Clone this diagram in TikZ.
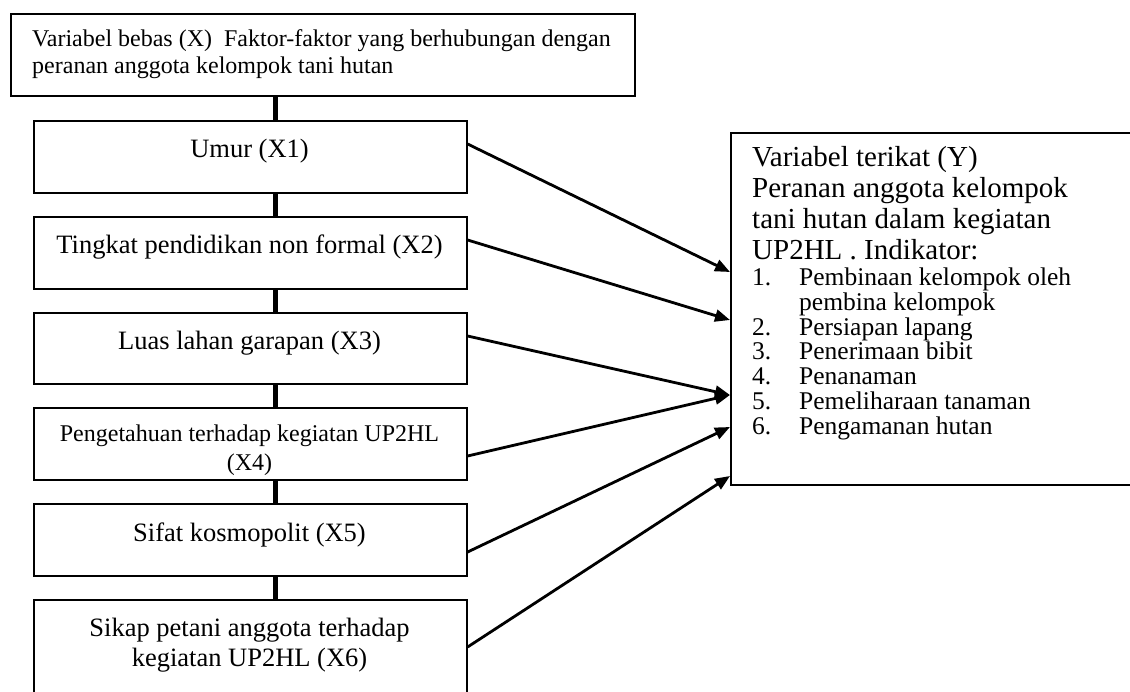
\documentclass[tikz,border=0pt]{standalone}
\usepackage{fontspec}
\setmainfont{Liberation Serif}
\usetikzlibrary{arrows.meta,calc}
\begin{document}
\begin{tikzpicture}[x=1pt,y=-1pt,
  box/.style={draw, line width=1.6pt, anchor=north west, inner sep=0pt, minimum width=433pt},
  lbl/.style={anchor=base, align=center, inner sep=0pt, font=\fontsize{26.5}{30}\selectfont},
  stem/.style={line width=5pt},
  arr/.style={line width=2.8pt, -{Triangle[length=15pt,width=12pt]}}
]
\useasboundingbox (0,0) rectangle (1130,691);
% top box
\node[box, minimum width=624pt, minimum height=82pt] (top) at (10,13) {};
\node[anchor=base west, align=left, inner sep=0pt, font=\fontsize{24}{27}\selectfont] (toptext) at (32,73)
  {Variabel bebas (X)\ \ Faktor-faktor yang berhubungan dengan\\peranan anggota kelompok tani hutan};
% X boxes
\node[box, minimum height=72pt] (x1) at (33,120) {};
\node[box, minimum height=72pt] (x2) at (33,216) {};
\node[box, minimum height=71pt] (x3) at (33,312) {};
\node[box, minimum height=72pt] (x4) at (33,407) {};
\node[box, minimum height=72pt] (x5) at (33,503) {};
\node[box, minimum height=110pt] (x6) at (33,599) {};
\node[lbl] (t1) at (249.5,157) {Umur (X1)};
\node[lbl] (t2) at (249.5,253) {Tingkat pendidikan non formal (X2)};
\node[lbl] (t3) at (249.5,349) {Luas lahan garapan (X3)};
\node[lbl, font=\fontsize{24}{29}\selectfont] (t4) at (249.5,470) {Pengetahuan terhadap kegiatan UP2HL\\(X4)};
\node[lbl] (t5) at (249.5,541) {Sifat kosmopolit (X5)};
\node[lbl] (t6) at (249.5,666) {Sikap petani anggota terhadap\\kegiatan UP2HL (X6)};
% stems
\coordinate (sx) at (275,0);
\draw[stem] (top.south -| sx) -- (x1.north -| sx);
\draw[stem] (x1.south -| sx) -- (x2.north -| sx);
\draw[stem] (x2.south -| sx) -- (x3.north -| sx);
\draw[stem] (x3.south -| sx) -- (x4.north -| sx);
\draw[stem] (x4.south -| sx) -- (x5.north -| sx);
\draw[stem] (x5.south -| sx) -- (x6.north -| sx);
% Y box
\node[box, minimum width=420pt, minimum height=352pt] (ybox) at (730,132) {};
\node[anchor=base west, align=left, inner sep=0pt, font=\fontsize{29}{31}\selectfont] (yhead) at (752,259)
  {Variabel terikat (Y)\\Peranan anggota kelompok\\tani hutan dalam kegiatan\\UP2HL . Indikator:};
\node[anchor=base west, align=left, inner sep=0pt, font=\fontsize{25.5}{24.7}\selectfont] (ylist) at (752,434)
  {\makebox[47pt][l]{1.}Pembinaan kelompok oleh\\
   \hspace*{47pt}pembina kelompok\\
   \makebox[47pt][l]{2.}Persiapan lapang\\
   \makebox[47pt][l]{3.}Penerimaan bibit\\
   \makebox[47pt][l]{4.}Penanaman\\
   \makebox[47pt][l]{5.}Pemeliharaan tanaman\\
   \makebox[47pt][l]{6.}Pengamanan hutan};
% arrows
\draw[arr] ($(x1.north east)+(0,24)$) -- ($(ybox.north west)+(0,140)$);
\draw[arr] ($(x2.north east)+(0,24)$) -- ($(ybox.north west)+(0,188)$);
\draw[arr] ($(x3.north east)+(0,24)$) -- ($(ybox.north west)+(0,263)$);
\draw[arr] ($(x4.north east)+(0,49)$) -- ($(ybox.north west)+(0,263)$);
\draw[arr] ($(x5.north east)+(0,49)$) -- ($(ybox.north west)+(0,295)$);
\draw[arr] ($(x6.north east)+(0,48)$) -- ($(ybox.north west)+(0,344)$);
\end{tikzpicture}
\end{document}
